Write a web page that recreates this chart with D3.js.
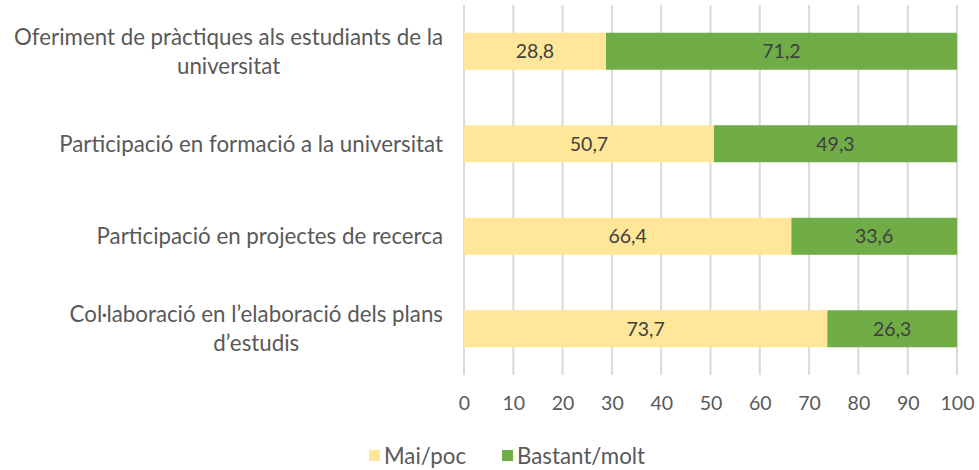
<!DOCTYPE html>
<html>
<head>
<meta charset="utf-8">
<script src="https://cdn.jsdelivr.net/npm/d3@7"></script>
<style>
  body { margin: 0; background: #fff; }
  text { font-family: Lato, "Open Sans", sans-serif; }
</style>
</head>
<body>
<svg id="canvas"></svg>
<script>
const categories = [
    ['Oferiment de pràctiques als estudiants de la', 'universitat'],
    ['Participació en formació a la universitat'],
    ['Participació en projectes de recerca'],
    ['Col·laboració en l\u2019elaboració dels plans', 'd\u2019estudis']
]
const maiPoc = [28.8, 50.7, 66.4, 73.7]
const bastantMolt = [71.2, 49.3, 33.6, 26.3]
const seriesNames = ['Mai/poc', 'Bastant/molt']
const xTicks = [0, 10, 20, 30, 40, 50, 60, 70, 80, 90, 100]

const width = 979
const height = 470
const colors = ['#FFE699', '#70AD47']
const textSize = 22.3
const numSize = 19.5

const svg = d3.select('#canvas')
    .attr('width', width)
    .attr('height', height)

const x = d3.scaleLinear().domain([0, 100]).range([464, 957])
const y = d3.scaleBand().domain(d3.range(categories.length)).range([5, 375]).paddingInner(0.6).paddingOuter(0.3)

// gridlines
svg.append('g')
    .selectAll('line')
    .data(xTicks)
    .enter()
    .append('line')
    .attr('x1', d => x(d)).attr('x2', d => x(d))
    .attr('y1', 5).attr('y2', 375)
    .attr('stroke', '#d9d9d9')
    .attr('stroke-width', 2)

// stacked bars
const rows = categories.map((c, i) => ({ i, vals: [maiPoc[i], bastantMolt[i]] }))
rows.forEach(r => {
    let start = 0
    r.vals.forEach((v, k) => {
        svg.append('rect')
            .attr('x', x(start))
            .attr('y', y(r.i))
            .attr('width', x(start + v) - x(start))
            .attr('height', y.bandwidth())
            .attr('fill', colors[k])
        svg.append('text')
            .attr('x', x(start + v / 2))
            .attr('y', y(r.i) + y.bandwidth() / 2)
            .attr('dy', '0.36em')
            .attr('text-anchor', 'middle')
            .attr('font-size', numSize)
            .attr('fill', '#404040')
            .text(d3.format('.1f')(v).replace('.', ','))
        start += v
    })
})

// category labels, lines centred on each other, block right-aligned
categories.forEach((lines, i) => {
    const g = svg.append('g')
    const lh = 29
    const cy = y(i) + y.bandwidth() / 2
    const texts = lines.map((l, j) => g.append('text')
        .attr('y', cy + (j - (lines.length - 1) / 2) * lh)
        .attr('dy', '0.35em')
        .attr('text-anchor', 'middle')
        .attr('font-size', textSize)
        .attr('fill', '#595959')
        .text(l))
    const maxW = d3.max(texts, t => t.node().getComputedTextLength())
    texts.forEach(t => t.attr('x', 443 - maxW / 2))
})

// x axis
const xAxis = d3.axisBottom(x).tickValues(xTicks).tickSize(0).tickPadding(0)
const ax = svg.append('g')
    .attr('transform', 'translate(0,' + 396 + ')')
    .call(xAxis)
ax.select('.domain').remove()
ax.selectAll('text')
    .attr('font-size', numSize)
    .attr('font-family', 'Lato, sans-serif')
    .attr('fill', '#595959')

// legend
const legend = svg.append('g').attr('transform', 'translate(369,456)')
let lx = 0
seriesNames.forEach((name, k) => {
    legend.append('rect')
        .attr('x', lx).attr('y', -6)
        .attr('width', 11).attr('height', 11)
        .attr('fill', colors[k])
    const t = legend.append('text')
        .attr('x', lx + 15)
        .attr('dy', '0.35em')
        .attr('font-size', textSize)
        .attr('fill', '#595959')
        .text(name)
    lx += 15 + t.node().getComputedTextLength() + 36
})
</script>
</body>
</html>
